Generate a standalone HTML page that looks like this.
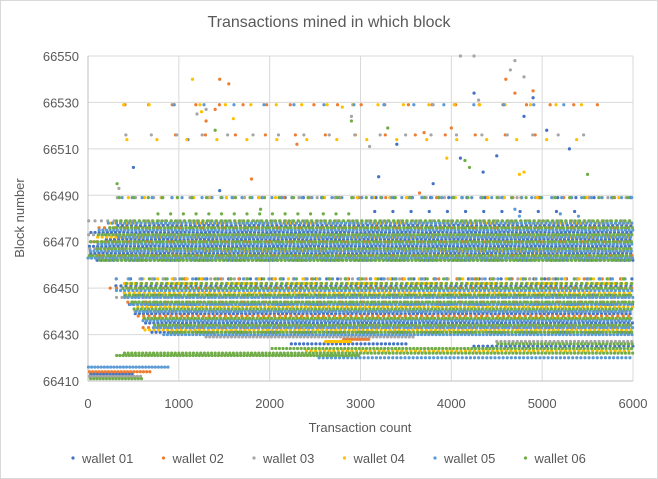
<!DOCTYPE html>
<html><head><meta charset="utf-8"><style>
body{margin:0;background:#fff}
#chart{position:relative;width:658px;height:479px;background:#fff;font-family:"Liberation Sans",sans-serif;color:#595959;box-sizing:border-box;border:1px solid #d9d9d9;overflow:hidden}
</style></head><body>
<div id="chart">
<svg id="svg" width="658" height="479" style="position:absolute;left:-1px;top:-1px"></svg>
</div>
<script>
// series names & colours
const seriesNames=["wallet 01","wallet 02","wallet 03","wallet 04","wallet 05","wallet 06"];
const seriesColors=["#4472C4","#ED7D31","#A5A5A5","#FFC000","#5B9BD5","#70AD47"];
const xTicks=[0,1000,2000,3000,4000,5000,6000];
const yTicks=[66410,66430,66450,66470,66490,66510,66530,66550];
// rows of dots: [block, fromTx, toTx, txPerDot]
const rows1=[[66462,100,6000,45],[66465,0,6000,45],[66468,0,6000,45],[66471,200,6000,45],[66474,0,6000,45],[66477,300,6000,50],
 [66431,700,6000,45],[66435,600,6000,45],[66439,500,6000,45],[66443,450,6000,45],[66447,400,6000,50],[66451,300,6000,55],[66454,400,6000,120],
 [66426,2200,3500,45],[66425,4200,6000,50],[66413,0,500,35],[66489,2000,6000,200],[66483,3000,5500,200]];
const rows2=[[66464,0,6000,60],[66470,0,6000,60],[66476,100,6000,60],[66433,600,6000,60],[66438,500,6000,60],[66444,400,6000,60],
 [66450,200,6000,70],[66428,2800,3100,25],[66414,0,700,35],[66454,1000,6000,200],[66529,300,5700,260],[66516,800,5200,330],[66489,1500,5800,280]];
const rows3=[[66463,0,6000,55],[66467,0,6000,55],[66473,0,6000,55],[66479,0,6000,70],[66434,700,6000,55],[66440,500,6000,55],
 [66446,300,6000,60],[66429,1300,3600,40],[66427,4500,6000,45],[66454,200,6000,130],[66516,300,5600,280],[66489,300,6000,200],[66412,0,600,35]];
const rows4=[[66466,200,6000,50],[66472,100,6000,50],[66478,200,6000,55],[66432,600,6000,50],[66437,600,6000,50],[66442,500,6000,50],[66448,350,6000,55],[66452,350,6000,60],
 [66423,2400,6000,50],[66427,2600,2900,25],[66454,300,6000,160],[66529,300,5500,280],[66514,300,5400,330],[66489,300,6000,180]];
const rows5=[[66463,0,6000,40],[66466,0,6000,40],[66469,100,6000,40],[66472,300,6000,40],[66475,100,6000,40],[66478,200,6000,45],
 [66430,800,6000,40],[66433,700,6000,40],[66436,600,6000,40],[66440,500,6000,40],[66443,450,6000,40],[66446,400,6000,40],[66449,300,6000,45],
 [66420,2500,6000,45],[66416,0,900,35],[66489,300,6000,110],[66454,300,6000,140],[66529,900,5300,330]];
const rows6=[[66462,100,6000,40],[66464,0,6000,40],[66467,100,6000,40],[66470,0,6000,40],[66473,100,6000,40],[66476,200,6000,40],[66479,300,6000,50],
 [66431,900,6000,40],[66434,700,6000,40],[66437,600,6000,40],[66441,500,6000,40],[66444,450,6000,40],[66447,400,6000,40],[66450,350,6000,45],[66452,400,6000,55],
 [66421,300,3000,35],[66422,400,6000,40],[66424,2000,6000,40],[66426,4500,6000,40],[66411,0,600,35],[66489,200,6000,160],[66482,700,3000,140],[66454,500,6000,180]];
const allRows=[rows1,rows2,rows3,rows4,rows5,rows6];
// scattered single points: [tx, block]
const pts1=[[500,66502],[1100,66514],[3400,66512],[3800,66495],[4100,66506],[4250,66534],[4500,66507],[4800,66524],[4900,66532],[5050,66518],[5300,66510],[4350,66500],[1450,66492],[3200,66498]];
const pts2=[[1450,66540],[1550,66538],[1300,66522],[1400,66527],[4600,66540],[4700,66534],[4000,66519],[3700,66517],[2300,66512],[4900,66535],[1800,66497],[3650,66491]];
const pts3=[[1300,66527],[1200,66525],[4100,66550],[4250,66550],[4700,66548],[4650,66544],[4800,66541],[4300,66531],[2900,66524],[3100,66511],[3800,66529],[340,66493]];
const pts4=[[1150,66540],[1250,66526],[4750,66499],[4800,66500],[3950,66506],[1600,66523],[2800,66528]];
const pts5=[[4700,66484],[4750,66481],[5200,66482],[5400,66481]];
const pts6=[[320,66495],[4150,66505],[4200,66502],[5500,66499],[2900,66522],[3300,66519],[1400,66518],[1900,66484]];
const allPts=[pts1,pts2,pts3,pts4,pts5,pts6];

const L=88,R=633,T=56,B=381,X0=0,X1=6000,Y0=66410,Y1=66550;
const sx=v=>L+(v-X0)/(X1-X0)*(R-L);
const sy=v=>B-(v-Y0)/(Y1-Y0)*(B-T);
const svg=document.getElementById('svg');
const NS="http://www.w3.org/2000/svg";
function mk(tag,attrs,parent){const e=document.createElementNS(NS,tag);for(const k in attrs)e.setAttribute(k,attrs[k]);(parent||svg).appendChild(e);return e;}

for(const t of yTicks){
 const g=mk('line',{x1:L,x2:R,y1:sy(t),y2:sy(t),stroke:'#d9d9d9','stroke-width':1});
 
 
 const lb=mk('text',{x:L-9,y:sy(t)+5,'text-anchor':'end','font-size':13,fill:'#595959'});
 lb.textContent=t;
 
 
}
for(const t of xTicks){
 const g=mk('line',{x1:sx(t),x2:sx(t),y1:T,y2:B,stroke:'#d9d9d9','stroke-width':1});
 
 
 const lb=mk('text',{x:sx(t),y:408,'text-anchor':'middle','font-size':13,fill:'#595959'});
 lb.textContent=t;
 
 
}
const ax=mk('line',{x1:L,x2:R,y1:B,y2:B,stroke:'#bfbfbf'});


const ay=mk('line',{x1:L,x2:L,y1:T,y2:B,stroke:'#bfbfbf'});



allRows.forEach((rows,si)=>{
 const g=mk('g',{});
 
 
 rows.forEach((r,ri)=>{
  const [b,f,t,st]=r;
  const gap=st/(X1-X0)*(R-L);
  const ln=mk('line',{x1:sx(f),x2:sx(t),y1:sy(b),y2:sy(b),stroke:seriesColors[si],'stroke-width':3.2,'stroke-linecap':'round','stroke-dasharray':'0 '+gap.toFixed(2),'stroke-dashoffset':((si*0.9+ri*1.3)%gap).toFixed(2)},g);
  
  
 });
 allPts[si].forEach(p=>{
  const c=mk('circle',{cx:sx(p[0]),cy:sy(p[1]),r:1.6,fill:seriesColors[si]},g);
  
  
 });
});

const tt=mk('text',{x:329,y:27,'text-anchor':'middle','font-size':16,fill:'#595959'});
tt.textContent='Transactions mined in which block';


const xt=mk('text',{x:360,y:432,'text-anchor':'middle','font-size':13,fill:'#595959'});
xt.textContent='Transaction count';


const yt=mk('text',{x:0,y:0,'text-anchor':'middle','font-size':13,fill:'#595959',transform:'translate(24,218) rotate(-90)'});
yt.textContent='Block number';



seriesNames.forEach((n,i)=>{
 const x=73+i*90.5;
 const g=mk('g',{});
 
 
 mk('circle',{cx:x,cy:458,r:1.6,fill:seriesColors[i]},g);
 const t=mk('text',{x:x+9,y:463,'font-size':13,fill:'#595959'},g);
 t.textContent=n;
});
</script>
</body></html>
